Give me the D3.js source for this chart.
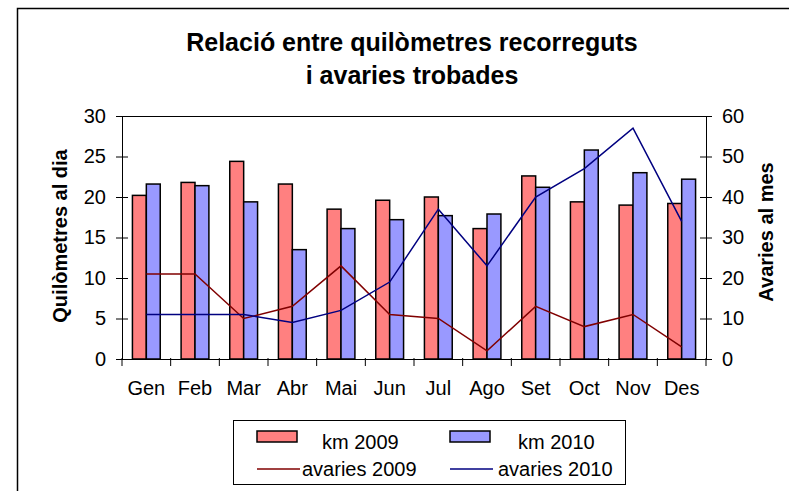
<!DOCTYPE html>
<html>
<head>
<meta charset="utf-8">
<script src="https://cdn.jsdelivr.net/npm/d3@7"></script>
<style>
  body { margin: 0; background: #fff; }
  svg { font-family: "Liberation Sans", Arial, sans-serif; }
  .axis text { font-size: 20px; fill: #000; }
  .axis path, .axis line { stroke: #000; }
</style>
</head>
<body>
<svg width="789" height="491"></svg>
<script>
var months = ["Gen", "Feb", "Mar", "Abr", "Mai", "Jun", "Jul", "Ago", "Set", "Oct", "Nov", "Des"];
var km2009 = [20.2, 21.8, 24.4, 21.6, 18.5, 19.6, 20.0, 16.1, 22.6, 19.4, 19.0, 19.2];
var km2010 = [21.6, 21.4, 19.4, 13.5, 16.1, 17.2, 17.7, 17.9, 21.2, 25.8, 23.0, 22.2];
var avaries2009 = [21, 21, 10, 13, 23, 11, 10, 2, 13, 8, 11, 3];
var avaries2010 = [11, 11, 11, 9, 12, 19, 37, 23, 40, 47, 57, 34];
var leftTicks = [0, 5, 10, 15, 20, 25, 30];
var rightTicks = [0, 10, 20, 30, 40, 50, 60];

var svg = d3.select("svg");

var margin = {top: 116, right: 83, bottom: 132, left: 122},
    width = 789 - margin.left - margin.right,
    height = 491 - margin.top - margin.bottom;

// outer chart frame
svg.append("rect")
    .attr("x", 17.5).attr("y", 8.5)
    .attr("width", 800).attr("height", 500)
    .attr("fill", "none").attr("stroke", "#000").attr("stroke-width", 1.5);

svg.append("text")
    .attr("x", 412).attr("y", 51)
    .attr("text-anchor", "middle")
    .style("font-size", "25px").style("font-weight", "bold")
    .text("Relació entre quilòmetres recorreguts");
svg.append("text")
    .attr("x", 412).attr("y", 84)
    .attr("text-anchor", "middle")
    .style("font-size", "25px").style("font-weight", "bold")
    .text("i avaries trobades");

var g = svg.append("g")
    .attr("transform", "translate(" + margin.left + "," + margin.top + ")");

var x = d3.scaleBand().domain(months).range([0, width]);
var bw = x.bandwidth() / 3.5;

var yL = d3.scaleLinear().domain([0, 30]).range([height, 0]);
var yR = d3.scaleLinear().domain([0, 60]).range([height, 0]);

// top border of plot area
g.append("line")
    .attr("x1", 0).attr("x2", width)
    .attr("y1", 0.5).attr("y2", 0.5)
    .attr("stroke", "#000");

var bars = [
  {values: km2009, color: "#ff8080", offset: 0},
  {values: km2010, color: "#9999ff", offset: 1}
];

bars.forEach(function(s) {
  g.selectAll(null)
      .data(s.values)
    .enter().append("rect")
      .attr("x", function(d, i) { return x(months[i]) + 0.75 * bw + s.offset * bw; })
      .attr("y", function(d) { return yL(d); })
      .attr("width", bw)
      .attr("height", function(d) { return height - yL(d); })
      .attr("fill", s.color)
      .attr("stroke", "#000")
      .attr("stroke-width", 1.5);
});

var line = d3.line()
    .x(function(d, i) { return x(months[i]) + x.bandwidth() / 2; })
    .y(function(d) { return yR(d); });

g.append("path")
    .datum(avaries2009)
    .attr("fill", "none").attr("stroke", "#800000").attr("stroke-width", 1.5)
    .attr("d", line);
g.append("path")
    .datum(avaries2010)
    .attr("fill", "none").attr("stroke", "#000080").attr("stroke-width", 1.5)
    .attr("d", line);

// axes
var axL = g.append("g").attr("class", "axis")
    .call(d3.axisLeft(yL).tickValues(leftTicks).tickSize(6).tickPadding(10).tickSizeOuter(0));
axL.selectAll(".tick line").attr("x2", 6).attr("x1", -6);

var axR = g.append("g").attr("class", "axis")
    .attr("transform", "translate(" + width + ",0)")
    .call(d3.axisRight(yR).tickValues(rightTicks).tickSize(6).tickPadding(10).tickSizeOuter(0));
axR.selectAll(".tick line").attr("x1", -6).attr("x2", 6);

var axB = g.append("g").attr("class", "axis")
    .attr("transform", "translate(0," + height + ")")
    .call(d3.axisBottom(x).tickSize(0).tickPadding(22).tickSizeOuter(0));
axB.select(".domain").attr("d", "M0,0.5H" + width);

// category boundary ticks
g.append("g").selectAll("line")
    .data(months.concat([null]))
  .enter().append("line")
    .attr("x1", function(d, i) { return i * x.bandwidth(); })
    .attr("x2", function(d, i) { return i * x.bandwidth(); })
    .attr("y1", height - 1).attr("y2", height + 7)
    .attr("stroke", "#000");

// axis titles
svg.append("text")
    .attr("transform", "translate(67,236) rotate(-90)")
    .attr("text-anchor", "middle")
    .style("font-size", "20px").style("font-weight", "bold")
    .text("Quilòmetres al dia");
svg.append("text")
    .attr("transform", "translate(773,232) rotate(-90)")
    .attr("text-anchor", "middle")
    .style("font-size", "20px").style("font-weight", "bold")
    .text("Avaries al mes");

// legend
var lg = svg.append("g").attr("transform", "translate(233,420)");
lg.append("rect")
    .attr("x", 0.5).attr("y", 0.5).attr("width", 392).attr("height", 64)
    .attr("fill", "#fff").attr("stroke", "#000");

var legendItems = [
  {label: "km 2009", color: "#ff8080", type: "rect", x: 24, tx: 89, y: 22},
  {label: "km 2010", color: "#9999ff", type: "rect", x: 217, tx: 285, y: 22},
  {label: "avaries 2009", color: "#800000", type: "line", x: 24, tx: 69, y: 49},
  {label: "avaries 2010", color: "#000080", type: "line", x: 217, tx: 265, y: 49}
];

legendItems.forEach(function(d) {
  if (d.type === "rect") {
    lg.append("rect")
        .attr("x", d.x).attr("y", d.y - 11).attr("width", 40).attr("height", 11)
        .attr("fill", d.color).attr("stroke", "#000").attr("stroke-width", 1.5);
  } else {
    lg.append("line")
        .attr("x1", d.x).attr("x2", d.x + 43)
        .attr("y1", d.y).attr("y2", d.y)
        .attr("stroke", d.color).attr("stroke-width", 1.5);
  }
  lg.append("text")
      .attr("x", d.tx).attr("y", d.y + 7)
      .style("font-size", "20px")
      .text(d.label);
});
</script>
</body>
</html>
